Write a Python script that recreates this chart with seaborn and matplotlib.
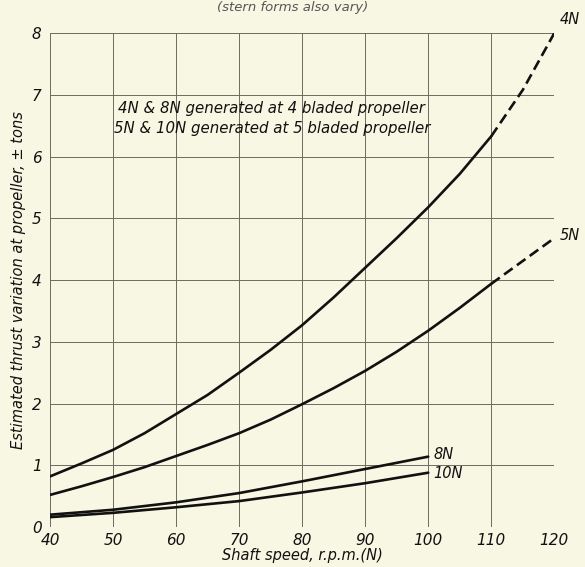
import matplotlib
matplotlib.use("Agg")
import matplotlib.pyplot as plt
import seaborn as sns
import pandas as pd

# ---- data ----
rpm_4n = [40, 45, 50, 55, 60, 65, 70, 75, 80, 85, 90, 95, 100, 105, 110, 115, 120]
thrust_4n = [0.82, 1.03, 1.25, 1.52, 1.83, 2.14, 2.50, 2.87, 3.27, 3.72, 4.20, 4.68,
             5.18, 5.72, 6.33, 7.08, 8.00]
rpm_5n = [40, 45, 50, 55, 60, 65, 70, 75, 80, 85, 90, 95, 100, 105, 110, 115, 120]
thrust_5n = [0.52, 0.66, 0.81, 0.97, 1.15, 1.33, 1.52, 1.74, 1.99, 2.25, 2.53, 2.84,
             3.18, 3.55, 3.94, 4.31, 4.68]
rpm_8n = [40, 50, 60, 70, 80, 90, 100]
thrust_8n = [0.20, 0.28, 0.40, 0.55, 0.74, 0.94, 1.14]
rpm_10n = [40, 50, 60, 70, 80, 90, 100]
thrust_10n = [0.16, 0.23, 0.32, 0.42, 0.56, 0.71, 0.88]
dash_from = {"4N": 110, "5N": 110}

x_ticks = [40, 50, 60, 70, 80, 90, 100, 110, 120]
y_ticks = [0, 1, 2, 3, 4, 5, 6, 7, 8]
x_label = "Shaft speed, r.p.m.(N)"
y_label = "Estimated thrust variation at propeller, \u00b1 tons"
note_lines = ["4N & 8N generated at 4 bladed propeller",
              "5N & 10N generated at 5 bladed propeller"]
title_text = "(stern forms also vary)"

bg = "#f8f7e3"
ink = "#111111"
grid_c = "#6b6b60"

sns.set_theme(style="white")
plt.rcParams["font.family"] = ["DejaVu Sans"]
plt.rcParams["font.style"] = "italic"

fig = plt.figure(figsize=(5.85, 5.67), dpi=100, facecolor=bg)
ax = fig.add_axes([0.0855, 0.0705, 0.862, 0.871])
ax.set_facecolor(bg)

ax.set_xlim(40, 120)
ax.set_ylim(0, 8)

# grid
for xv in x_ticks:
    ax.axvline(xv, color=grid_c, lw=0.7, zorder=1)
for yv in y_ticks:
    ax.axhline(yv, color=grid_c, lw=0.7, zorder=1)

def draw(name, rpm, thr):
    df = pd.DataFrame({"rpm": rpm, "thrust": thr})
    if name in dash_from:
        cut = dash_from[name]
        solid = df[df.rpm <= cut]
        dashed = df[df.rpm >= cut]
        sns.lineplot(data=solid, x="rpm", y="thrust", ax=ax, color=ink, lw=1.9,
                     zorder=3, sort=True, estimator=None)
        sns.lineplot(data=dashed, x="rpm", y="thrust", ax=ax, color=ink, lw=1.9,
                     zorder=3, sort=True, estimator=None, linestyle=(0, (4, 2)))
    else:
        sns.lineplot(data=df, x="rpm", y="thrust", ax=ax, color=ink, lw=1.9,
                     zorder=3, sort=True, estimator=None)

draw("4N", rpm_4n, thrust_4n)
draw("5N", rpm_5n, thrust_5n)
draw("8N", rpm_8n, thrust_8n)
draw("10N", rpm_10n, thrust_10n)

# curve labels
ax.text(rpm_4n[-1] + 0.8, thrust_4n[-1] + 0.22, "4N", fontsize=10.5, color=ink,
        ha="left", va="center", clip_on=False)
ax.text(rpm_5n[-1] + 0.8, thrust_5n[-1] + 0.05, "5N", fontsize=10.5, color=ink,
        ha="left", va="center", clip_on=False)
ax.text(rpm_8n[-1] + 0.8, thrust_8n[-1] + 0.04, "8N", fontsize=10.5, color=ink,
        ha="left", va="center")
ax.text(rpm_10n[-1] + 0.8, thrust_10n[-1] - 0.02, "10N", fontsize=10.5, color=ink,
        ha="left", va="center")

# note
ax.text(50.8, 6.78, note_lines[0], fontsize=10.8, color=ink, ha="left", va="center")
ax.text(50.1, 6.46, note_lines[1], fontsize=10.8, color=ink, ha="left", va="center")

# title (at very top, as in the reference)
fig.text(0.50, 0.999, title_text, fontsize=9.5, color="#555555", ha="center", va="top")

ax.set_xticks(x_ticks)
ax.set_yticks(y_ticks)
ax.set_xticklabels([str(v) for v in x_ticks], fontsize=11)
ax.set_yticklabels([str(v) for v in y_ticks], fontsize=11)
ax.tick_params(axis="both", length=4, width=0.7, color=grid_c, pad=2, labelcolor=ink)
ax.tick_params(axis="x", length=2)
for s in ax.spines.values():
    s.set_visible(False)

ax.set_xlabel(x_label, fontsize=10.5, color=ink, labelpad=0)
ax.set_ylabel(y_label, fontsize=10.5, color=ink, labelpad=4)

fig.savefig("out.png", dpi=100, facecolor=bg)
